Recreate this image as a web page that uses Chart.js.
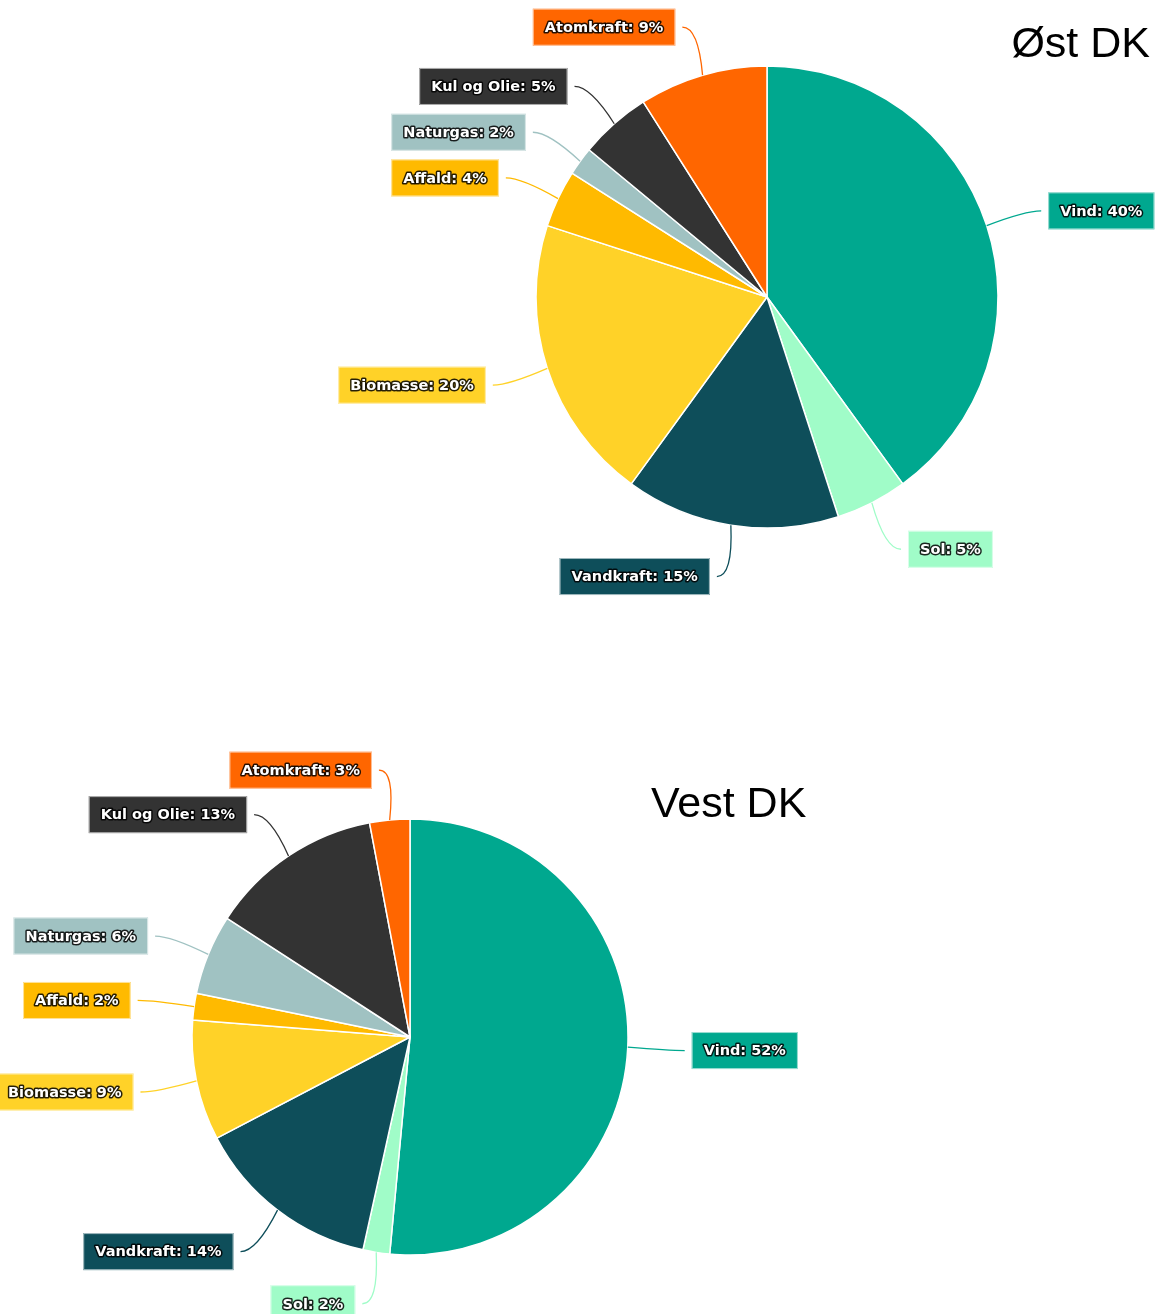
<!DOCTYPE html>
<html>
<head>
<meta charset="utf-8">
<script src="https://cdn.jsdelivr.net/npm/chart.js@4"></script>
<style>
  html, body { margin: 0; padding: 0; background: #fff; }
  body { width: 1157px; height: 1314px; position: relative; overflow: hidden; }
  canvas { position: absolute; left: 0; }
</style>
</head>
<body>
<canvas id="ostChart" width="1157" height="640" style="top:0"></canvas>
<canvas id="vestChart" width="1157" height="634" style="top:680px"></canvas>
<script>
const categories = ["Vind", "Sol", "Vandkraft", "Biomasse", "Affald", "Naturgas", "Kul og Olie", "Atomkraft"];
const ostValues = [40, 5, 15, 20, 4, 2, 5, 9];
const vestValues = [52, 2, 14, 9, 2, 6, 13, 3];
const sliceColors = ["#00a88f", "#a0fcc8", "#0e4e5a", "#ffd228", "#ffba00", "#a0c2c2", "#333333", "#ff6600"];

const LABEL_FONT = "bold 14.5px 'DejaVu Sans', Verdana, sans-serif";

// draws the "Name: x%" boxes with curved connectors, plus the corner title
const sliceLabels = {
    id: "sliceLabels",
    afterDatasetsDraw(chart, args, opts) {
        const ctx = chart.ctx;
        const meta = chart.getDatasetMeta(0);
        const values = chart.data.datasets[0].data;
        ctx.save();
        meta.data.forEach((arc, i) => {
            const { x, y, startAngle, endAngle, outerRadius } =
                arc.getProps(["x", "y", "startAngle", "endAngle", "outerRadius"], true);
            const mid = (startAngle + endAngle) / 2;
            const cos = Math.cos(mid), sin = Math.sin(mid);
            const side = cos >= 0 ? 1 : -1;
            const ex = x + outerRadius * cos, ey = y + outerRadius * sin;
            const ax = x + (outerRadius + 51) * cos, ay = y + (outerRadius + 51) * sin + 1;
            const color = sliceColors[i];

            ctx.beginPath();
            ctx.moveTo(ex, ey);
            ctx.quadraticCurveTo(ax - side * 10, ay, ax + side * 6, ay);
            ctx.strokeStyle = color;
            ctx.lineWidth = 1.3;
            ctx.stroke();

            const text = chart.data.labels[i] + ": " + values[i] + "%";
            ctx.font = LABEL_FONT;
            const w = ctx.measureText(text).width + 24;
            const h = 37;
            const bx = side > 0 ? ax + 13 : ax - 13 - w;
            const by = ay - h / 2;
            ctx.fillStyle = color;
            ctx.fillRect(bx, by, w, h);
            ctx.strokeStyle = "rgba(255,255,255,0.6)";
            ctx.lineWidth = 1;
            ctx.strokeRect(bx + 0.5, by + 0.5, w - 1, h - 1);

            ctx.textAlign = "center";
            ctx.textBaseline = "middle";
            ctx.lineJoin = "round";
            ctx.strokeStyle = "rgba(0,0,0,0.85)";
            ctx.lineWidth = 3;
            ctx.strokeText(text, bx + w / 2, ay + 1);
            ctx.fillStyle = "#fff";
            ctx.fillText(text, bx + w / 2, ay + 1);
        });

        ctx.font = "43px 'Liberation Sans', Arial, sans-serif";
        ctx.fillStyle = "#000";
        ctx.textBaseline = "alphabetic";
        ctx.textAlign = opts.align;
        ctx.fillText(opts.title, opts.x, opts.y);
        ctx.restore();
    }
};

function makePie(id, values, cx, cy, r, titleOpts) {
    const canvas = document.getElementById(id);
    const bw = 1.5;
    const side = 2 * r + bw;
    const left = cx - side / 2, top = cy - side / 2;
    return new Chart(canvas, {
        type: "pie",
        data: {
            labels: categories,
            datasets: [{
                data: values,
                backgroundColor: sliceColors,
                borderColor: "#ffffff",
                borderWidth: bw
            }]
        },
        options: {
            responsive: false,
            animation: false,
            devicePixelRatio: 1,
            layout: {
                padding: {
                    left: left,
                    top: top,
                    right: canvas.width - left - side,
                    bottom: canvas.height - top - side
                }
            },
            plugins: {
                legend: { display: false },
                tooltip: { enabled: false },
                sliceLabels: titleOpts
            }
        },
        plugins: [sliceLabels]
    });
}

makePie("ostChart", ostValues, 767, 297, 231, { title: "Øst DK", x: 1150, y: 57, align: "right" });
makePie("vestChart", vestValues, 410, 357, 218, { title: "Vest DK", x: 651, y: 137, align: "left" });
</script>
</body>
</html>
